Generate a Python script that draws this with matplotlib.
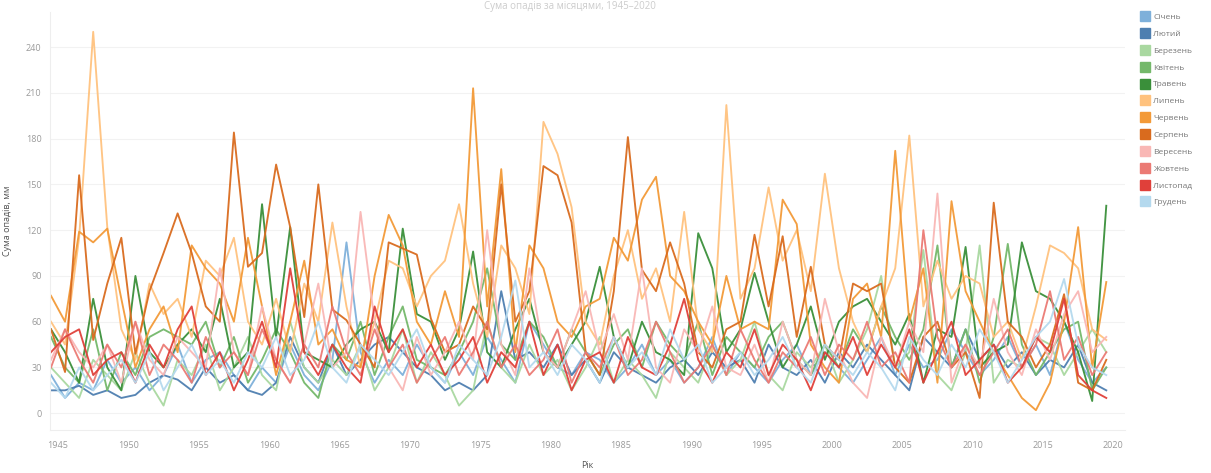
import matplotlib
matplotlib.use("Agg")
import matplotlib.pyplot as plt
from matplotlib.lines import Line2D

plt.rcParams['font.family'] = ['Open Sans', 'DejaVu Sans']

years = list(range(1944, 2020))

months = ["Січень", "Лютий", "Березень", "Квітень", "Травень", "Липень",
          "Червень", "Серпень", "Вересень", "Жовтень", "Листопад", "Грудень"]

colors = ["#7EB0DA", "#4E7FB0", "#A9D8A0", "#74B86A", "#3A8F3A", "#FFC27E",
          "#F39A38", "#D96B1E", "#F9B7B5", "#EB7A74", "#E0403A", "#B4D9EE"]

sichen = [25, 10, 20, 15, 35, 20, 30, 15, 25, 45, 20, 35, 40, 25, 15, 30, 20, 45, 25, 15,
          35, 112, 40, 20, 35, 25, 45, 30, 20, 40, 25, 50, 35, 20, 60, 45, 30, 25, 40, 35,
          20, 30, 45, 25, 35, 20, 30, 50, 25, 40, 30, 20, 35, 45, 25, 40, 30, 20, 35, 50,
          25, 45, 30, 35, 55, 40, 25, 35, 50, 30, 45, 25, 60, 35, 20, 30]
lyutyi = [15, 15, 18, 12, 15, 10, 12, 20, 25, 22, 15, 30, 20, 25, 15, 12, 20, 50, 30, 20,
          45, 25, 35, 45, 50, 40, 30, 25, 15, 20, 15, 25, 80, 35, 40, 30, 45, 25, 35, 20,
          40, 30, 25, 20, 30, 35, 25, 40, 30, 35, 20, 45, 30, 25, 35, 20, 40, 30, 45, 35,
          25, 15, 50, 40, 30, 55, 35, 45, 30, 40, 25, 35, 30, 45, 20, 15]
berezen = [30, 20, 10, 35, 25, 15, 40, 20, 5, 35, 25, 45, 15, 30, 50, 25, 15, 60, 30, 20,
           35, 25, 45, 15, 30, 55, 20, 40, 25, 5, 15, 60, 30, 20, 45, 25, 35, 15, 30, 50,
           20, 35, 25, 10, 40, 30, 20, 45, 25, 35, 60, 25, 15, 40, 30, 45, 20, 35, 55, 90,
           30, 40, 107, 25, 15, 40, 110, 20, 35, 30, 50, 45, 25, 40, 55, 40]
kviten = [50, 30, 20, 55, 15, 40, 25, 50, 55, 50, 45, 60, 30, 50, 20, 35, 55, 40, 20, 10,
          45, 35, 60, 25, 50, 70, 35, 30, 25, 40, 60, 95, 45, 35, 60, 50, 30, 55, 40, 25,
          45, 55, 30, 60, 45, 35, 60, 25, 50, 40, 30, 50, 60, 35, 25, 45, 30, 55, 40, 70,
          50, 35, 55, 110, 30, 55, 20, 50, 111, 45, 25, 40, 55, 60, 15, 30]
traven = [55, 40, 20, 75, 30, 15, 90, 40, 30, 45, 55, 40, 75, 30, 40, 137, 50, 122, 40, 35,
          30, 45, 55, 60, 40, 121, 65, 60, 35, 55, 106, 40, 30, 55, 75, 40, 30, 45, 60, 96,
          50, 30, 60, 40, 35, 25, 118, 95, 40, 55, 92, 60, 30, 45, 70, 35, 60, 70, 75, 60,
          45, 65, 20, 55, 50, 109, 30, 40, 45, 112, 80, 75, 60, 40, 8, 136]
lypen = [60, 45, 115, 250, 122, 55, 35, 85, 65, 75, 50, 100, 90, 115, 60, 45, 75, 40, 85, 60,
         125, 70, 30, 60, 100, 95, 70, 90, 100, 137, 85, 50, 110, 95, 65, 191, 170, 135, 60, 45,
         90, 120, 75, 95, 60, 132, 55, 40, 202, 75, 95, 148, 100, 120, 80, 157, 95, 60, 40, 70,
         95, 182, 70, 100, 75, 90, 85, 50, 60, 35, 70, 110, 105, 95, 55, 48]
cherven = [77, 60, 119, 112, 121, 75, 30, 55, 70, 40, 110, 95, 85, 60, 115, 70, 25, 60, 100, 45,
           55, 35, 30, 90, 130, 110, 60, 45, 80, 50, 213, 70, 160, 40, 110, 95, 60, 50, 70, 75,
           115, 100, 140, 155, 90, 80, 60, 45, 90, 55, 60, 55, 140, 124, 45, 30, 20, 75, 85, 50,
           172, 60, 95, 20, 139, 80, 60, 40, 25, 10, 2, 20, 60, 122, 30, 86]
serpen = [55, 27, 156, 48, 85, 115, 39, 80, 105, 131, 105, 70, 60, 184, 96, 105, 163, 122, 63, 150,
          68, 61, 45, 30, 112, 108, 104, 62, 40, 45, 70, 55, 150, 60, 80, 162, 156, 125, 40, 25,
          80, 181, 94, 80, 112, 85, 40, 30, 55, 60, 117, 70, 116, 50, 96, 45, 35, 85, 80, 85,
          30, 20, 50, 60, 30, 40, 10, 138, 60, 50, 30, 45, 78, 20, 15, 35]
veresen = [35, 55, 40, 30, 45, 20, 60, 35, 25, 50, 40, 30, 95, 40, 25, 70, 35, 20, 45, 85,
           30, 40, 132, 60, 30, 15, 50, 25, 40, 60, 35, 120, 45, 25, 95, 40, 30, 55, 80, 40,
           65, 35, 95, 30, 20, 55, 40, 70, 30, 25, 45, 20, 60, 35, 25, 75, 40, 20, 10, 50,
           30, 60, 40, 144, 20, 45, 30, 75, 40, 25, 55, 35, 65, 80, 40, 50]
zhovten = [30, 55, 35, 20, 45, 30, 60, 25, 45, 35, 20, 50, 30, 40, 25, 55, 35, 20, 45, 30,
           70, 40, 25, 55, 30, 45, 20, 35, 50, 25, 40, 60, 30, 45, 25, 35, 55, 20, 40, 30,
           50, 25, 35, 60, 40, 20, 30, 45, 25, 55, 35, 20, 40, 30, 50, 25, 45, 35, 60, 30,
           40, 20, 120, 50, 30, 45, 25, 40, 55, 30, 45, 80, 35, 50, 25, 40]
lystopad = [40, 50, 55, 25, 35, 40, 20, 45, 30, 55, 70, 25, 40, 15, 35, 60, 30, 95, 40, 25,
            45, 30, 20, 70, 40, 55, 30, 45, 25, 35, 50, 20, 40, 30, 60, 25, 45, 15, 35, 40,
            20, 50, 30, 25, 45, 75, 35, 20, 40, 30, 55, 25, 45, 35, 15, 40, 30, 50, 25, 45,
            30, 55, 20, 40, 60, 25, 35, 45, 20, 30, 50, 40, 75, 25, 15, 10]
gruden = [20, 10, 30, 15, 25, 35, 20, 40, 15, 30, 45, 25, 35, 20, 40, 30, 50, 25, 35, 60,
          30, 20, 45, 35, 25, 40, 55, 30, 20, 45, 35, 25, 50, 87, 30, 40, 25, 45, 35, 20,
          50, 30, 40, 25, 55, 35, 45, 20, 30, 40, 25, 35, 50, 30, 20, 45, 35, 25, 40, 30,
          15, 50, 35, 25, 45, 30, 55, 40, 20, 35, 50, 60, 88, 45, 30, 25]

series = [sichen, lyutyi, berezen, kviten, traven, lypen,
          cherven, serpen, veresen, zhovten, lystopad, gruden]

W, H = 1211, 473
fig = plt.figure(figsize=(W / 100, H / 100), dpi=100)
ax = fig.add_axes([50 / W, 1 - 430 / H, (1125 - 50) / W, (430 - 12) / H])

# yearly totals sit at mid-year on a continuous year axis
xs = [y + 0.5 for y in years]
for vals, col, name in zip(series, colors, months):
    ax.plot(xs, vals, color=col, lw=1.35, label=name, alpha=0.95)

ax.set_xlim(1944.43, 2020.83)
ax.set_ylim(-11, 263)
ax.set_xticks(range(1945, 2021, 5))
ax.set_yticks(range(0, 241, 30))
ax.tick_params(axis='both', length=0, labelsize=6.5, labelcolor='#9a9a9a')
ax.tick_params(axis='x', pad=8)
ax.tick_params(axis='y', pad=6)
ax.grid(axis='y', color='#f2f2f2', lw=0.8)
ax.set_axisbelow(True)
for side in ('top', 'right'):
    ax.spines[side].set_visible(False)
for side in ('left', 'bottom'):
    ax.spines[side].set_color('#eeeeee')
    ax.spines[side].set_linewidth(0.8)

ax.set_xlabel("Рік", fontsize=6.5, color='#555555', labelpad=8)
ax.set_ylabel("Сума опадів, мм", fontsize=6.5, color='#555555', labelpad=10)

fig.text(570 / W, 1 - 1 / H, "Сума опадів за місяцями, 1945–2020",
         ha='center', va='top', fontsize=7, color='#cccccc')

handles = [Line2D([], [], ls='none', marker='s', markersize=7, color=c) for c in colors]
fig.legend(handles, months, loc='upper left', bbox_to_anchor=(1138 / W, 1 - 10 / H),
           frameon=False, fontsize=6, labelcolor='#777777', handlelength=0.8,
           handletextpad=0.6, labelspacing=1.08, borderaxespad=0)

fig.savefig("out.png", dpi=100)
